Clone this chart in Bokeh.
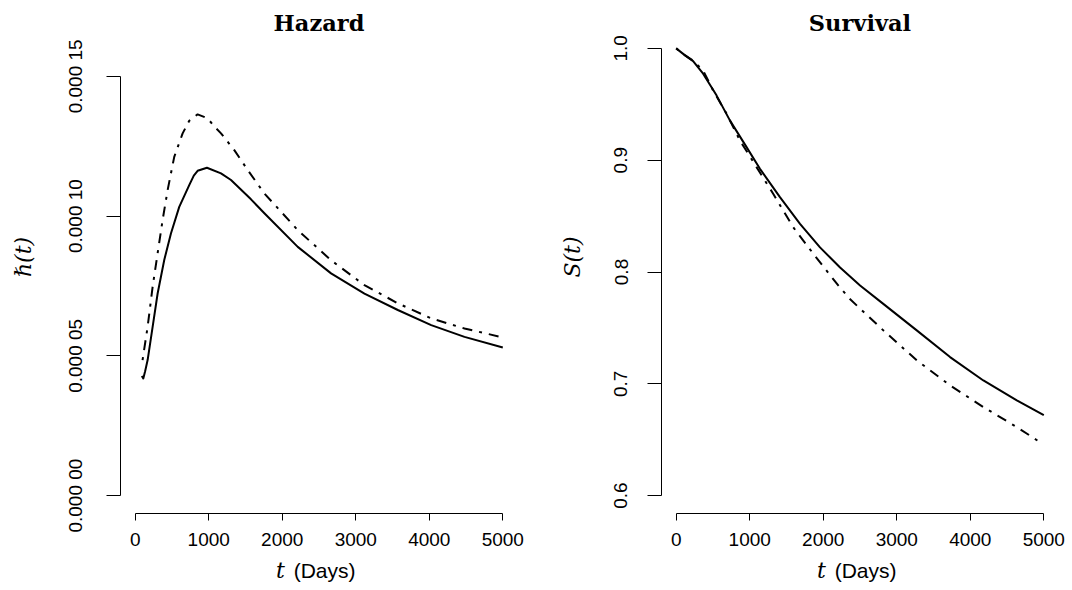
from bokeh.plotting import figure
from bokeh.models import Range1d, FixedTicker, Label, Div
from bokeh.layouts import row, column
from bokeh.embed import file_html
from bokeh.resources import INLINE

# ---------------- data ----------------
haz_solid_t = [90, 110, 135, 169, 237, 305, 395, 486, 599, 735, 797, 849, 976, 1167,
               1303, 1575, 1757, 2211, 2664, 3118, 3572, 4026, 4479, 5000]
haz_solid_h = [4.28e-5, 4.19e-5, 4.45e-5, 4.85e-5, 6.04e-5, 7.23e-5, 8.43e-5, 9.38e-5,
               10.33e-5, 11.11e-5, 11.45e-5, 11.62e-5, 11.73e-5, 11.53e-5, 11.29e-5,
               10.60e-5, 10.10e-5, 8.90e-5, 7.95e-5, 7.23e-5, 6.64e-5, 6.10e-5, 5.68e-5,
               5.30e-5]

haz_dash_t = [100, 169, 237, 305, 373, 441, 531, 645, 735, 849, 985, 1078, 1167, 1348,
              1530, 1757, 2211, 2664, 3118, 3572, 4026, 4479, 5000]
haz_dash_h = [4.85e-5, 6.04e-5, 7.47e-5, 8.67e-5, 9.86e-5, 10.93e-5, 12.12e-5, 12.96e-5,
              13.41e-5, 13.64e-5, 13.50e-5, 13.20e-5, 12.96e-5, 12.36e-5, 11.65e-5,
              10.81e-5, 9.50e-5, 8.42e-5, 7.53e-5, 6.88e-5, 6.34e-5, 5.98e-5, 5.66e-5]

surv_solid_t = [0, 116, 230, 366, 548, 730, 957, 1139, 1411, 1684, 1956, 2229, 2501,
                2817, 3272, 3725, 4178, 4633, 5000]
surv_solid_s = [1.0, 0.994, 0.9886, 0.9774, 0.958, 0.9356, 0.9117, 0.8923, 0.867, 0.843,
                0.822, 0.804, 0.788, 0.7715, 0.7478, 0.7239, 0.7030, 0.6852, 0.6719]

surv_dash_t = [0, 116, 208, 366, 502, 685, 866, 1093, 1319, 1592, 1864, 2204, 2363,
               2817, 3272, 3725, 4178, 4633, 4990]
surv_dash_s = [1.0, 0.994, 0.9900, 0.9803, 0.9624, 0.9416, 0.9177, 0.8938, 0.870, 0.840,
               0.8164, 0.788, 0.7758, 0.7478, 0.721, 0.6986, 0.6792, 0.6613, 0.646]

x_ticks = [0, 1000, 2000, 3000, 4000, 5000]
x_tick_labels = ["0", "1000", "2000", "3000", "4000", "5000"]
haz_y_ticks = [0.0, 0.00005, 0.0001, 0.00015]
haz_y_tick_labels = ["0.000 00", "0.000 05", "0.000 10", "0.000 15"]
surv_y_ticks = [0.6, 0.7, 0.8, 0.9, 1.0]
surv_y_tick_labels = ["0.6", "0.7", "0.8", "0.9", "1.0"]

titles = ["Hazard", "Survival"]
y_labels = ["\u210f(t)", "S(t)"]
x_label_var = "t"
x_label_unit = "(Days)"

# ---------------- layout constants ----------------
PANEL_W = 536
MAIN_H = 556          # main figure height
XLAB_H = 32           # height of the strip holding the x-axis title
FRAME_W = 397
FRAME_BOTTOM = 513    # frame bottom (x-axis line), px from top
REF_TOP = 30          # where the R plot region's top would be
X_RANGE = (-200, 5200)
TICK_FONT = "Liberation Sans"


def make_panel(left_border, y_lim, y_ticks, y_tick_labels, title, ylab,
               t_solid, v_solid, t_dash, v_dash):
    ymin, ymax = y_lim
    per_px = (ymax - ymin) / (FRAME_BOTTOM - REF_TOP)
    y_top = ymax + REF_TOP * per_px        # frame is stretched up to the canvas top
    right_border = PANEL_W - left_border - FRAME_W

    p = figure(width=PANEL_W, height=MAIN_H,
               x_range=Range1d(*X_RANGE), y_range=Range1d(ymin, y_top),
               output_backend="svg", toolbar_location=None,
               min_border_left=left_border, min_border_right=right_border,
               min_border_top=0, min_border_bottom=MAIN_H - FRAME_BOTTOM)
    p.grid.visible = False
    p.outline_line_color = None
    p.background_fill_color = "white"
    p.border_fill_color = "white"

    xa = p.xaxis[0]
    xa.ticker = FixedTicker(ticks=x_ticks, minor_ticks=[])
    xa.major_label_overrides = {t: l for t, l in zip(x_ticks, x_tick_labels)}
    xa.bounds = (x_ticks[0], x_ticks[-1])
    xa.axis_line_color = "black"
    xa.major_tick_line_color = "black"
    xa.major_tick_out = 7
    xa.major_tick_in = 0
    xa.minor_tick_out = 0
    xa.minor_tick_in = 0
    xa.major_label_standoff = 12
    xa.major_label_text_font = TICK_FONT
    xa.major_label_text_font_size = "19px"
    xa.major_label_text_color = "black"

    ya = p.yaxis[0]
    ya.ticker = FixedTicker(ticks=y_ticks, minor_ticks=[])
    ya.major_label_overrides = {t: l for t, l in zip(y_ticks, y_tick_labels)}
    ya.bounds = (y_ticks[0], y_ticks[-1])
    ya.axis_line_color = "black"
    ya.major_tick_line_color = "black"
    ya.major_tick_out = 14
    ya.major_tick_in = 0
    ya.minor_tick_out = 0
    ya.minor_tick_in = 0
    ya.major_label_standoff = 20
    ya.major_label_orientation = "vertical"
    ya.major_label_text_font = TICK_FONT
    ya.major_label_text_font_size = "19px"
    ya.major_label_text_color = "black"
    ya.axis_label = ylab
    ya.axis_label_text_font = "DejaVu Serif"
    ya.axis_label_text_font_style = "italic"
    ya.axis_label_text_font_size = "22px"
    ya.axis_label_text_color = "black"
    ya.axis_label_standoff = 27

    p.line(t_solid, v_solid, line_color="black", line_width=2, line_join="round")
    p.line(t_dash, v_dash, line_color="black", line_width=2, line_dash="3 7 10 7")

    # title, inside the (stretched) frame
    p.add_layout(Label(x=(X_RANGE[0] + X_RANGE[1]) / 2, y=ymax + 8 * per_px,
                       text=title, text_align="center", text_baseline="alphabetic",
                       text_font="DejaVu Serif", text_font_style="bold",
                       text_font_size="22.5px", text_color="black"))

    # strip below, holding the x-axis title (italic t + sans "(Days)")
    html = (
        f'<div style="margin-left:{left_border + 156}px; padding-top:4px; '
        f'white-space:nowrap; font-family:\'{TICK_FONT}\', sans-serif; '
        f'font-size:21px; line-height:21px; color:black;">'
        f'<span style="font-family:\'DejaVu Serif\', serif; font-style:italic; '
        f'font-size:22px; margin-right:3px;">{x_label_var}</span> {x_label_unit}</div>'
    )
    q = Div(text=html, width=PANEL_W, height=XLAB_H, margin=(0, 0, 0, 0))
    return column(p, q, spacing=0)


c1 = make_panel(120, (-0.0000064, 0.0001664), haz_y_ticks, haz_y_tick_labels,
                titles[0], y_labels[0], haz_solid_t, haz_solid_h, haz_dash_t, haz_dash_h)
c2 = make_panel(125, (0.584, 1.016), surv_y_ticks, surv_y_tick_labels,
                titles[1], y_labels[1], surv_solid_t, surv_solid_s, surv_dash_t, surv_dash_s)

layout = row(c1, c2, spacing=0)
open("out.html", "w").write(file_html(layout, INLINE))
